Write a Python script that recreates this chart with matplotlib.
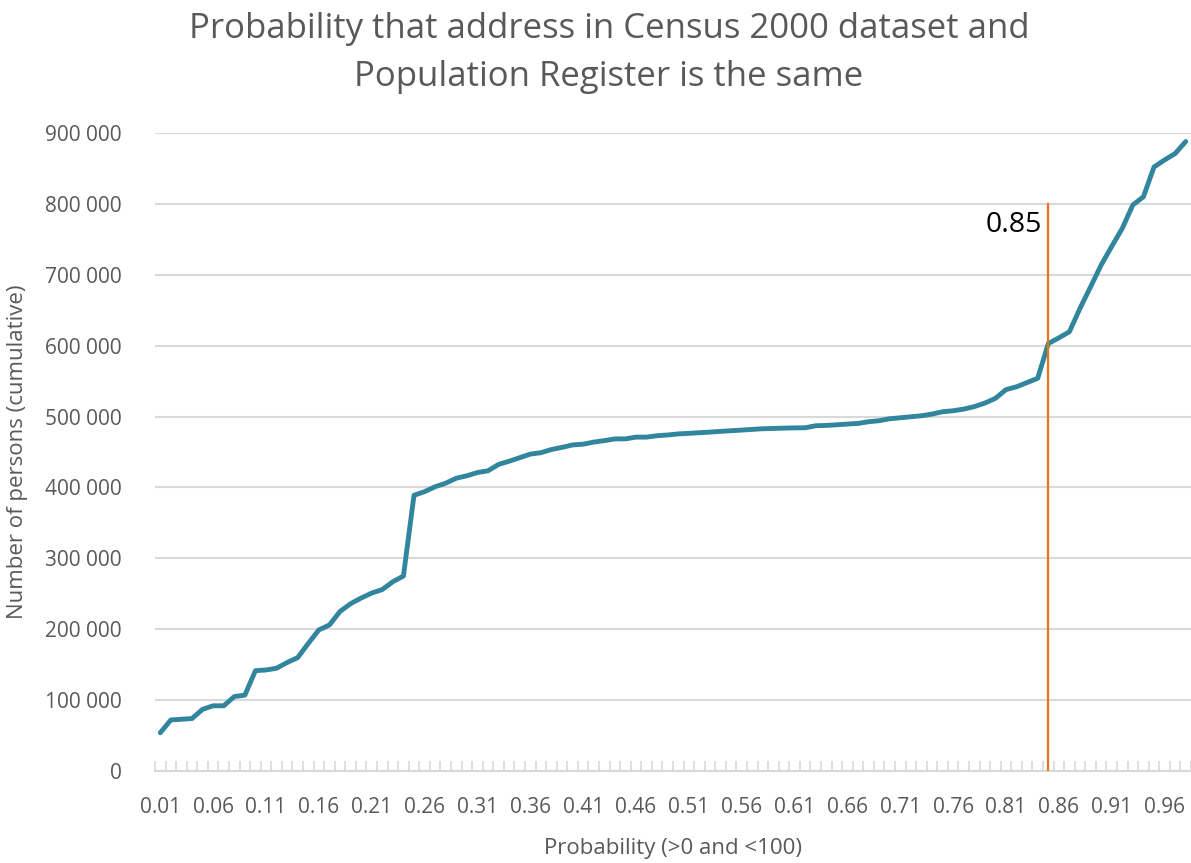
import matplotlib
matplotlib.use("Agg")
import matplotlib.pyplot as plt
from matplotlib.ticker import FuncFormatter, FixedLocator

plt.rcParams['font.family'] = ['Open Sans', 'DejaVu Sans']

categories = [f"{i/100:.2f}" for i in range(1, 99)]
persons = [
    54000, 72000, 73000, 74000, 87000, 92000, 92000, 105000, 107000, 141500,
    142500, 145000, 153000, 160000, 180000, 199000, 206000, 225000, 236000, 244000,
    251000, 256000, 267000, 275000, 389000, 394000, 401000, 406000, 413000, 416500,
    421000, 423500, 432500, 437000, 442000, 447000, 449000, 453500, 456500, 460000,
    461000, 464000, 466000, 468500, 468500, 471000, 471000, 473000, 474000, 475500,
    476300, 477200, 478100, 479100, 480000, 480900, 481900, 482800, 483200, 483700,
    484000, 484200, 487000, 487500, 488400, 489400, 490300, 492700, 494100, 496900,
    498300, 499700, 501100, 503500, 506800, 508200, 510500, 514000, 519000, 525700,
    538000, 542000, 548000, 554000, 603000, 611000, 619700, 652600, 683000, 713700,
    740000, 765500, 798600, 810000, 852000, 862000, 871000, 888000,
]
threshold_label = "0.85"
threshold_top = 800000
y_ticks = [0, 100000, 200000, 300000, 400000, 500000, 600000, 700000, 800000, 900000]

title = "Probability that address in Census 2000 dataset and\nPopulation Register is the same"
xlabel = "Probability (>0 and <100)"
ylabel = "Number of persons (cumulative)"

TEXT = "#595959"
GRID = "#d9d9d9"
LINE = "#31859C"
ORANGE = "#E8731A"

fig = plt.figure(figsize=(11.91, 8.63), dpi=100)
ax = fig.add_axes([155/1191, (863-771)/863, 1036/1191, (771-133)/863])

x = list(range(len(categories)))
ax.plot(x, persons, color=LINE, linewidth=3.5, solid_joinstyle='round', solid_capstyle='round', zorder=3)

xi = categories.index(threshold_label)
ax.plot([xi, xi], [0, threshold_top], color=ORANGE, linewidth=1.6, zorder=4)
ax.text(xi - 0.6, 770000, threshold_label, ha='right', va='center', fontsize=20.5, color='black')

ax.set_xlim(-0.5, len(categories) - 0.5)
ax.set_ylim(0, 900000)
ax.set_yticks(y_ticks)
ax.yaxis.set_major_formatter(FuncFormatter(lambda v, p: f"{int(v):,}".replace(",", " ")))
ax.yaxis.grid(True, color=GRID, linewidth=1.5)
ax.set_axisbelow(True)

major = list(range(0, len(categories), 5))
ax.set_xticks(major)
ax.set_xticklabels([categories[i] for i in major])
ax.xaxis.set_minor_locator(FixedLocator([i - 0.5 for i in range(len(categories) + 1)]))
ax.tick_params(axis='x', which='major', length=0, pad=19, labelsize=15, labelcolor=TEXT)
ax.tick_params(axis='x', which='minor', direction='in', length=7, width=1.2, color=GRID)
ax.tick_params(axis='y', length=0, pad=24, labelsize=15, labelcolor=TEXT)

for s in ['top', 'right', 'left']:
    ax.spines[s].set_visible(False)
ax.spines['bottom'].set_color(GRID)
ax.spines['bottom'].set_linewidth(1.5)

ax.set_xlabel(xlabel, fontsize=16, color=TEXT, labelpad=14)
ax.set_ylabel(ylabel, fontsize=16, color=TEXT, labelpad=12)
fig.text(609/1191, 1 - 53/863, title, ha='center', va='center', fontsize=25, color=TEXT, linespacing=1.55)

fig.savefig("out.png", dpi=100)
